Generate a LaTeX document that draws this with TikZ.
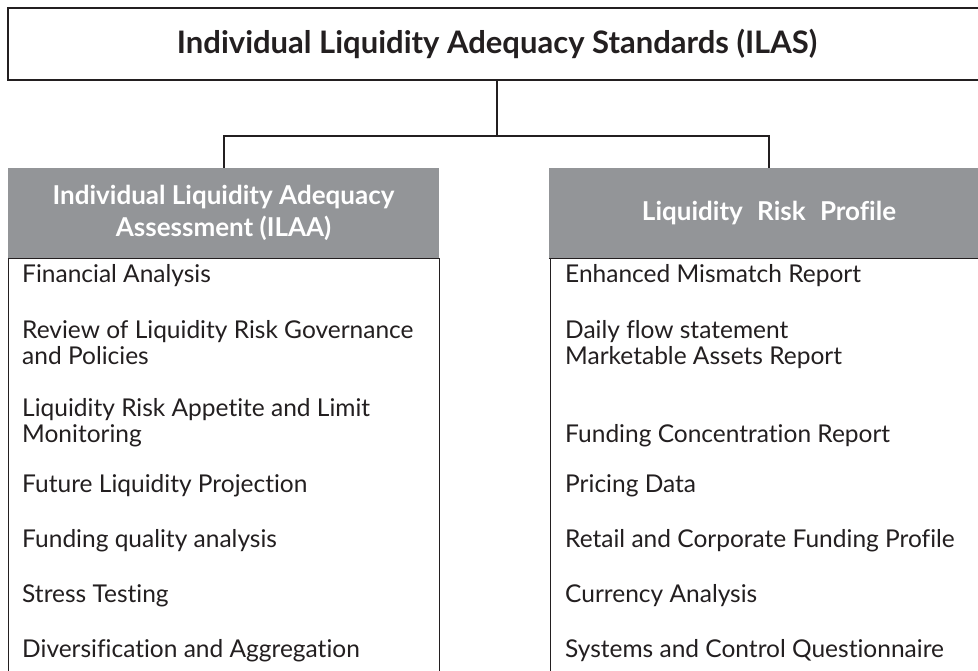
\documentclass[tikz,border=0pt]{standalone}
\usepackage{fontspec}
\setmainfont{Lato}[Ligatures={NoCommon}]
\definecolor{hdrgray}{HTML}{939598}
\definecolor{ink}{HTML}{231F20}
\begin{document}
\begin{tikzpicture}[x=1pt,y=-1pt,
  titlebox/.style={draw=ink, line width=2pt, minimum width=978pt, minimum height=72pt, inner sep=0pt,
    font=\fontsize{31}{36}\selectfont\bfseries, text=ink},
  hdrbox/.style={fill=hdrgray, draw=none, minimum height=90pt, inner sep=0pt, align=center,
    text=white, font=\fontsize{26}{32}\selectfont\bfseries},
  colbox/.style={draw=ink, line width=0.9pt},
  item/.style={anchor=base west, inner sep=0pt, align=left, text=ink,
    font=\fontsize{24.5}{26}\selectfont},
  conn/.style={draw=ink, line width=2pt}]
\clip (0,0) rectangle (978,671);
\fill[white] (0,0) rectangle (978,671);
% title
\node[titlebox] (top) at (497,44) {Individual Liquidity Adequacy Standards (ILAS)};
% column bodies
\draw[colbox] (8,258) rectangle (439,700);
\draw[colbox] (550,258) rectangle (1000,700);
% headers
\node[hdrbox, minimum width=431pt] (h1) at (223.5,213) {Individual Liquidity Adequacy\\Assessment (ILAA)};
\node[hdrbox, minimum width=440pt] (h2) at (769,213) {Liquidity\hspace{0.55em}Risk\hspace{0.55em}Profile};
\draw[ink, line width=0.9pt] (h1.south west) -- (h1.south east);
\draw[ink, line width=0.9pt] (h2.south west) -- (h2.south east);
% connectors
\coordinate (bus) at (497,136);
\draw[conn] (top.south) -- (bus);
\draw[conn] (h1.north) |- (bus) -| (h2.north);
% left items (multi-line items anchored on their last line)
\node[item] (l1) at (22,283) {Financial Analysis};
\node[item] (l2) at (22,364) {Review of Liquidity Risk Governance\\and Policies};
\node[item] (l3) at (22,442) {Liquidity Risk Appetite and Limit\\Monitoring};
\node[item] (l4) at (22,492) {Future Liquidity Projection};
\node[item] (l5) at (22,547) {Funding quality analysis};
\node[item] (l6) at (22,602) {Stress Testing};
\node[item] (l7) at (22,657) {Diversification and Aggregation};
% right items
\node[item] (r1) at (565,283) {Enhanced Mismatch Report};
\node[item] (r2) at (565,364) {Daily flow statement\\Marketable Assets Report};
\node[item] (r3) at (565,442) {Funding Concentration Report};
\node[item] (r4) at (565,492) {Pricing Data};
\node[item] (r5) at (565,547) {Retail and Corporate Funding Profile};
\node[item] (r6) at (565,602) {Currency Analysis};
\node[item] (r7) at (565,657) {Systems and Control Questionnaire};
\end{tikzpicture}
\end{document}
